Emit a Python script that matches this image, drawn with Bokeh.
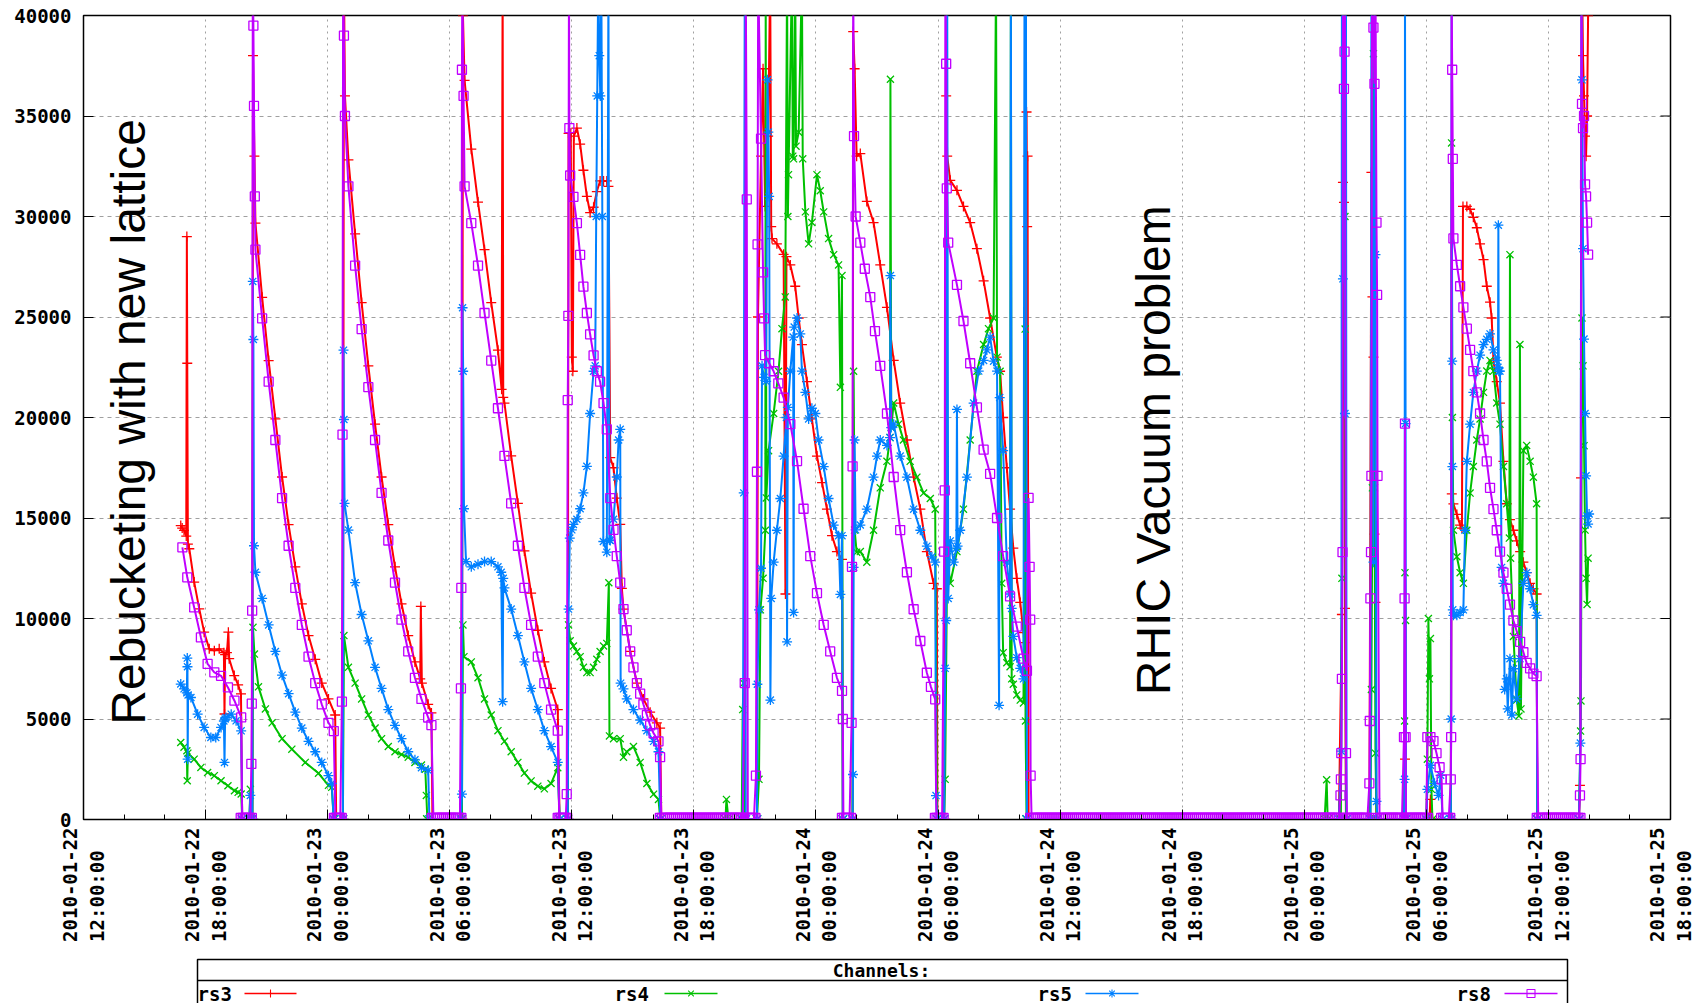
import math
from bokeh.plotting import figure
from bokeh.layouts import column
from bokeh.models import Range1d, FixedTicker, ColumnDataSource
from bokeh.core.properties import value
from bokeh.embed import file_html
from bokeh.resources import INLINE

# ---------------- data (time in hours after 2010-01-22 12:00) ----------------
x_ticks = [0, 6, 12, 18, 24, 30, 36, 42, 48, 54, 60, 66, 72, 78]
x_minor = [2, 4, 8, 10, 14, 16, 20, 22, 26, 28, 32, 34, 38, 40, 44, 46, 50, 52,
           56, 58, 62, 64, 68, 70, 74, 76]
x_tick_labels = [
    "2010-01-22\n  12:00:00", "2010-01-22\n  18:00:00",
    "2010-01-23\n  00:00:00", "2010-01-23\n  06:00:00",
    "2010-01-23\n  12:00:00", "2010-01-23\n  18:00:00",
    "2010-01-24\n  00:00:00", "2010-01-24\n  06:00:00",
    "2010-01-24\n  12:00:00", "2010-01-24\n  18:00:00",
    "2010-01-25\n  00:00:00", "2010-01-25\n  06:00:00",
    "2010-01-25\n  12:00:00", "2010-01-25\n  18:00:00",
]
y_ticks = [0, 5000, 10000, 15000, 20000, 25000, 30000, 35000, 40000]
y_tick_labels = ["0", "5000", "10000", "15000", "20000", "25000", "30000", "35000", "40000"]

names = ["rs3", "rs4", "rs5", "rs8"]
colors = ["#ff0000", "#00c000", "#0080ff", "#c000ff"]
markers = ["cross", "x", "asterisk", "square"]

notes = ["Rebucketing with new lattice", "RHIC Vacuum problem"]
note_t = [2.2, 52.6]
note_v = [4712, 6180]

rs3 = [
    (4.78, 14625), (4.85, 14500), (4.94, 14380), (5.05, 14100), (5.08, 29000), (5.10, 22700), (5.13, 13700),
    (5.20, 13470), (5.44, 11810), (5.69, 10480), (5.93, 9320), (6.18, 8490), (6.43, 8400), (6.67, 8490),
    (6.90, 8300), (6.93, 5250), (6.96, 8200), (7.05, 8300), (7.12, 9320), (7.16, 8000), (7.41, 7160),
    (7.60, 6700), (7.74, 6250), (7.80, 0),
    (8.30, 0), (8.33, 38000), (8.40, 33000), (8.45, 29670), (8.78, 25980), (9.10, 22830), (9.43, 19935),
    (9.76, 17040), (10.08, 14675), (10.41, 12570), (10.73, 10730), (11.06, 9150), (11.39, 7970),
    (11.71, 6785), (12.04, 6000), (12.37, 5200), (12.42, 0),
    (12.75, 0), (12.80, 42000), (12.85, 36000), (13.02, 32820), (13.35, 29140), (13.67, 25720),
    (14.00, 22570), (14.33, 19670), (14.65, 17040), (14.98, 14675), (15.31, 12570), (15.63, 10730),
    (15.96, 9150), (16.29, 7840), (16.55, 7000), (16.58, 10600), (16.63, 6785), (16.94, 5730),
    (17.10, 5300), (17.15, 0),
    (18.60, 0), (18.65, 40000), (18.73, 36770), (19.06, 33350), (19.39, 30720), (19.71, 28350),
    (20.04, 25720), (20.37, 23350), (20.55, 21400), (20.60, 42000), (20.63, 21000), (20.69, 20720),
    (21.02, 18090), (21.35, 15730), (21.67, 13360), (22.00, 11260), (22.33, 9415), (22.65, 7840),
    (22.98, 6520), (23.31, 5470), (23.40, 0),
    (23.80, 0), (23.84, 34140), (23.95, 34140), (24.00, 23000), (24.05, 22300), (24.10, 34000),
    (24.25, 34400), (24.41, 33600), (24.57, 32300), (24.74, 31000), (24.90, 30190), (25.07, 30460),
    (25.23, 31240), (25.39, 31770), (25.56, 31770), (25.72, 31770), (25.80, 31500), (25.89, 18000),
    (26.05, 17500), (26.21, 15990), (26.38, 14680), (26.46, 11500), (26.54, 10470), (26.87, 8360),
    (27.20, 6785), (27.52, 6000), (27.85, 5340), (28.18, 4810), (28.34, 4550), (28.40, 0),
    (33.10, 0), (33.15, 25000), (33.30, 33000), (33.40, 37350), (33.50, 30500), (33.65, 34000),
    (33.75, 42000), (33.80, 29500), (33.84, 28900), (34.08, 28640), (34.41, 28120), (34.50, 11220),
    (34.55, 28000), (34.74, 27590), (34.98, 26530), (35.15, 24950), (35.31, 23630), (35.56, 21780),
    (35.80, 19930), (36.05, 18080), (36.30, 16760), (36.54, 15440), (36.79, 14120), (37.03, 13330),
    (37.28, 12940), (37.32, 0),
    (37.80, 0), (37.83, 39200), (37.90, 37350), (38.00, 33000), (38.18, 33130), (38.50, 30750),
    (38.83, 29700), (39.16, 27590), (39.49, 25480), (39.82, 22840), (40.14, 20720), (40.47, 18880),
    (40.80, 17030), (41.13, 15440), (41.45, 13330), (41.78, 11750), (41.94, 11480), (41.97, 0),
    (42.30, 0), (42.40, 36000), (42.45, 33000), (42.60, 31800), (42.93, 31300), (43.25, 30500),
    (43.58, 29700), (43.91, 28400), (44.24, 26800), (44.56, 24950), (44.89, 23000), (45.05, 22300),
    (45.20, 20000), (45.38, 17500), (45.54, 15440), (45.70, 13500), (45.87, 12000), (46.04, 10800),
    (46.20, 9300), (46.30, 8800), (46.35, 35200), (46.38, 29500), (46.40, 33000), (46.45, 0),
    (61.70, 0), (61.85, 10200), (61.90, 31700), (61.95, 30700), (62.00, 10500), (62.05, 0),
    (63.20, 0), (63.30, 32200), (63.35, 26000), (63.40, 23000), (63.45, 14200), (63.50, 10800),
    (63.55, 0), (64.90, 0), (64.95, 3000), (65.00, 0), (66.15, 0), (66.20, 1000), (66.30, 0),
    (67.20, 0), (67.25, 16200), (67.33, 15700), (67.50, 15180), (67.66, 14650), (67.75, 14500),
    (67.80, 30500), (67.99, 30500), (68.15, 30360), (68.31, 29960), (68.48, 29440), (68.64, 28640),
    (68.81, 27850), (68.97, 26530), (69.13, 25740), (69.21, 24950), (69.30, 22840), (69.46, 21780),
    (69.62, 20720), (69.79, 17820), (69.95, 15710), (70.11, 14920), (70.28, 14390), (70.44, 13860),
    (70.61, 13330), (70.77, 12800), (70.93, 12280), (71.10, 11750), (71.26, 11480), (71.42, 11220),
    (71.45, 0),
    (73.50, 0), (73.55, 1700), (73.60, 17000), (73.65, 42000), (73.70, 38000), (73.75, 36000),
    (73.80, 34000), (73.85, 33000), (73.90, 35000), (73.95, 40000), (74.00, 42000),
]

rs4 = [
    (4.78, 3830), (4.94, 3600), (5.08, 3420), (5.10, 1930), (5.13, 3300), (5.44, 3000), (5.77, 2590),
    (6.10, 2340), (6.43, 2180), (6.76, 1930), (7.10, 1680), (7.42, 1430), (7.60, 1350), (7.75, 1270),
    (7.80, 0), (8.15, 0), (8.20, 1500), (8.25, 0),
    (8.30, 0), (8.33, 9560), (8.40, 8230), (8.60, 6600), (8.94, 5500), (9.27, 4810), (9.76, 4020),
    (10.24, 3500), (10.90, 2840), (11.55, 2300), (12.04, 1700), (12.20, 1600), (12.30, 0),
    (12.75, 0), (12.80, 9150), (13.02, 7570), (13.35, 6785), (13.67, 6000), (14.00, 5200), (14.33, 4550),
    (14.65, 4020), (14.98, 3630), (15.31, 3370), (15.63, 3235), (15.96, 3100), (16.29, 2840),
    (16.61, 2710), (16.80, 2500), (16.85, 1200), (16.90, 0),
    (18.60, 0), (18.65, 9680), (18.70, 8100), (19.06, 7840), (19.39, 7050), (19.71, 6000), (20.04, 5200),
    (20.37, 4420), (20.69, 3890), (21.02, 3370), (21.35, 2840), (21.67, 2310), (22.00, 1920),
    (22.33, 1660), (22.65, 1525), (22.98, 1790), (23.31, 2580), (23.40, 0),
    (23.80, 0), (23.84, 9680), (23.92, 8890), (24.08, 8630), (24.25, 8360), (24.41, 8100), (24.57, 7570),
    (24.74, 7310), (24.90, 7310), (25.07, 7570), (25.23, 7970), (25.39, 8360), (25.56, 8630),
    (25.72, 8760), (25.82, 11780), (25.85, 4160), (26.05, 4020), (26.38, 4020), (26.54, 3100),
    (26.70, 3370), (27.03, 3630), (27.36, 2840), (27.69, 1790), (28.02, 1260), (28.26, 1000), (28.35, 0),
    (31.55, 0), (31.60, 1000), (31.70, 0), (32.35, 0), (32.40, 5470), (32.45, 6785), (32.50, 0),
    (33.10, 0), (33.20, 2000), (33.27, 10430), (33.40, 12000), (33.51, 14390), (33.53, 42000),
    (33.56, 16000), (33.67, 18350), (33.92, 20200), (34.16, 22300), (34.33, 24420), (34.49, 26000),
    (34.58, 42000), (34.62, 30000), (34.65, 32080), (34.82, 42000), (34.86, 33000), (34.90, 32870),
    (34.98, 42000), (35.02, 33500), (35.15, 34190), (35.31, 42000), (35.35, 32870), (35.48, 30230),
    (35.64, 28640), (35.80, 29700), (36.05, 32080), (36.21, 31280), (36.38, 30230), (36.62, 28900),
    (36.87, 28100), (37.11, 27590), (37.20, 21500), (37.28, 27060), (37.32, 0),
    (37.80, 0), (37.85, 22300), (37.90, 14400), (38.00, 13300), (38.18, 13330), (38.50, 12800),
    (38.83, 14390), (39.16, 16500), (39.49, 17820), (39.64, 19000), (39.66, 36830), (39.70, 19500),
    (39.82, 20720), (40.06, 19670), (40.30, 18880), (40.63, 17820), (40.96, 17030), (41.29, 16240),
    (41.62, 15970), (41.86, 15440), (41.95, 0),
    (42.30, 0), (42.35, 2000), (42.45, 13070), (42.60, 11750), (42.93, 13330), (43.25, 15440),
    (43.58, 18880), (43.91, 22300), (44.24, 23630), (44.48, 24420), (44.73, 24950), (44.85, 42000),
    (44.90, 23000), (45.05, 22300), (45.13, 11750), (45.20, 8300), (45.38, 7800), (45.54, 7600),
    (45.58, 42000), (45.62, 7000), (45.70, 6730), (45.87, 6200), (46.04, 5940), (46.20, 5800),
    (46.28, 24400), (46.30, 4900), (46.35, 0),
    (61.00, 0), (61.10, 1980), (61.15, 0), (61.80, 0), (61.85, 12000), (61.90, 42000), (62.00, 30000),
    (62.05, 0), (63.25, 0), (63.30, 6470), (63.35, 16500), (63.40, 38100), (63.45, 16500), (63.50, 3300),
    (63.55, 0), (64.90, 0), (64.93, 4900), (64.95, 12280), (64.98, 9900), (65.00, 0), (66.00, 0),
    (66.05, 3000), (66.10, 10000), (66.15, 7000), (66.20, 9000), (66.25, 1500), (66.30, 0),
    (67.20, 0), (67.24, 33660), (67.28, 20000), (67.33, 14390), (67.50, 13070), (67.66, 12280),
    (67.82, 11750), (67.99, 14390), (68.15, 16240), (68.31, 17560), (68.48, 18880), (68.64, 19930),
    (68.81, 21250), (68.97, 22310), (69.13, 22840), (69.30, 22310), (69.46, 20720), (69.62, 19670),
    (69.79, 17560), (69.95, 15710), (70.08, 14000), (70.11, 28100), (70.14, 13000), (70.28, 9110),
    (70.44, 5940), (70.55, 5150), (70.60, 23630), (70.65, 5500), (70.77, 18350), (70.93, 18610),
    (71.10, 17820), (71.26, 17030), (71.42, 15710), (71.45, 0),
    (73.50, 0), (73.58, 4400), (73.60, 5900), (73.65, 24950), (73.70, 22570), (73.75, 18600),
    (73.80, 14400), (73.85, 12000), (73.90, 10700), (73.95, 13000),
]

rs5 = [
    (4.78, 6740), (4.94, 6500), (5.08, 6300), (5.10, 8030), (5.11, 7600), (5.12, 3000), (5.14, 6200),
    (5.28, 6070), (5.61, 5240), (5.93, 4580), (6.26, 4080), (6.50, 4080), (6.76, 4580), (6.90, 4900),
    (6.93, 2840), (6.96, 5000), (7.00, 5080), (7.26, 5240), (7.50, 4910), (7.75, 4410), (7.80, 0),
    (8.15, 0), (8.20, 1200), (8.25, 0),
    (8.30, 0), (8.32, 26770), (8.35, 23880), (8.38, 13620), (8.45, 12300), (8.78, 11000), (9.10, 9680),
    (9.43, 8360), (9.76, 7180), (10.08, 6260), (10.41, 5340), (10.73, 4550), (11.06, 3890),
    (11.39, 3370), (11.71, 2840), (12.04, 2180), (12.20, 1790), (12.30, 0),
    (12.75, 0), (12.78, 23350), (12.80, 19900), (12.83, 15730), (13.02, 14400), (13.35, 11780),
    (13.67, 10200), (14.00, 8890), (14.33, 7570), (14.65, 6520), (14.98, 5470), (15.31, 4680),
    (15.63, 4020), (15.96, 3370), (16.29, 2970), (16.61, 2580), (16.94, 2445), (17.00, 0),
    (18.55, 0), (18.60, 1260), (18.63, 25460), (18.66, 22300), (18.70, 15460), (18.80, 12830),
    (19.06, 12570), (19.39, 12700), (19.71, 12830), (20.04, 12830), (20.37, 12570), (20.53, 12300),
    (20.60, 5860), (20.63, 12000), (20.69, 11520), (21.02, 10470), (21.35, 9150), (21.67, 7840),
    (22.00, 6520), (22.33, 5470), (22.65, 4420), (22.98, 3630), (23.31, 2840), (23.40, 0),
    (23.80, 0), (23.84, 10470), (23.90, 14000), (24.00, 14410), (24.08, 14680), (24.25, 14940),
    (24.41, 15460), (24.57, 16250), (24.74, 17570), (24.90, 20200), (25.07, 22300), (25.15, 22570),
    (25.20, 30000), (25.25, 36000), (25.30, 42000), (25.35, 38000), (25.40, 36000), (25.45, 42000),
    (25.50, 30000), (25.55, 13830), (25.72, 13300), (25.80, 42000), (25.85, 13900), (25.89, 13880),
    (26.05, 14940), (26.21, 17040), (26.30, 18880), (26.38, 19410), (26.40, 6785), (26.54, 6500),
    (26.70, 6000), (27.03, 5470), (27.36, 4940), (27.69, 4420), (28.02, 3890), (28.26, 3370), (28.35, 0),
    (32.40, 0), (32.45, 16250), (32.50, 42000), (32.55, 0),
    (33.10, 0), (33.12, 6730), (33.20, 10430), (33.30, 12500), (33.35, 22570), (33.45, 22000),
    (33.55, 21800), (33.62, 36800), (33.66, 34200), (33.70, 31000), (33.76, 5940), (33.80, 11000),
    (33.92, 12800), (34.08, 14390), (34.25, 15970), (34.41, 18080), (34.55, 20000), (34.58, 8840),
    (34.62, 20500), (34.74, 22310), (34.88, 24000), (34.90, 10300), (34.93, 24500), (35.07, 24950),
    (35.23, 24160), (35.31, 22310), (35.48, 21250), (35.64, 19930), (35.80, 20460), (35.97, 20200),
    (36.13, 18880), (36.38, 17560), (36.62, 15970), (36.87, 14650), (37.11, 14120), (37.20, 11200),
    (37.28, 14120), (37.32, 0),
    (37.80, 0), (37.82, 2240), (37.85, 12540), (37.90, 18880), (37.95, 14410), (38.18, 14650),
    (38.50, 15440), (38.83, 17030), (39.00, 18080), (39.16, 18880), (39.49, 18610), (39.64, 19000),
    (39.66, 27060), (39.70, 19500), (39.82, 19670), (40.14, 18080), (40.47, 17030), (40.80, 15440),
    (41.13, 14390), (41.45, 13600), (41.70, 13070), (41.86, 12800), (41.90, 1190), (41.95, 0),
    (42.30, 0), (42.35, 7520), (42.40, 9900), (42.45, 42000), (42.50, 11000), (42.60, 13860),
    (42.77, 12800), (42.90, 13500), (42.93, 20400), (42.96, 13600), (43.09, 14390), (43.42, 17030),
    (43.75, 20720), (44.00, 22310), (44.24, 22840), (44.40, 23360), (44.56, 24000), (44.73, 22800),
    (44.90, 22310), (45.00, 5680), (45.03, 20990), (45.20, 18350), (45.38, 12800), (45.54, 11220),
    (45.58, 42000), (45.62, 10500), (45.70, 9110), (45.87, 8050), (46.04, 7520), (46.20, 7000),
    (46.25, 42000), (46.32, 42000), (46.37, 0),
    (61.70, 0), (61.82, 3400), (61.85, 42000), (61.90, 26900), (61.95, 42000), (62.00, 20200),
    (62.05, 42000), (62.08, 0), (63.25, 0), (63.30, 42000), (63.40, 12800), (63.45, 42000),
    (63.50, 28100), (63.55, 900), (63.60, 0), (64.90, 0), (64.93, 2000), (64.95, 42000), (64.98, 19700),
    (65.00, 0), (66.00, 0), (66.05, 1500), (66.20, 2700), (66.40, 1800), (66.60, 1200), (66.70, 2200),
    (66.80, 0),
    (67.20, 0), (67.22, 5000), (67.24, 42000), (67.27, 22800), (67.28, 17560), (67.30, 10430),
    (67.33, 10160), (67.50, 10160), (67.66, 10300), (67.82, 10430), (67.90, 14390), (67.99, 17820),
    (68.15, 19670), (68.31, 21250), (68.48, 22310), (68.64, 23100), (68.81, 23630), (68.97, 23890),
    (69.13, 24160), (69.30, 23360), (69.46, 22840), (69.52, 22500), (69.54, 29570), (69.56, 22300),
    (69.62, 22310), (69.70, 12540), (69.79, 11750), (69.85, 6470), (69.95, 7000), (70.00, 5500),
    (70.11, 8000), (70.20, 5200), (70.28, 7500), (70.44, 6000), (70.60, 8000), (70.77, 11750),
    (70.93, 12280), (71.10, 11480), (71.26, 10690), (71.42, 10160), (71.45, 0),
    (73.50, 0), (73.57, 3800), (73.62, 42000), (73.65, 36800), (73.70, 28400), (73.75, 23900),
    (73.80, 20200), (73.85, 17100), (73.90, 15100), (73.95, 14700), (74.00, 15200),
]

# rs8 readings while beam is present / during spikes
rs8_active = [
    (4.86, 13540), (5.10, 12050), (5.44, 10550), (5.77, 9060), (6.10, 7740), (6.43, 7320), (6.76, 7150),
    (7.10, 6570), (7.42, 5910), (7.75, 5076), (8.25, 2770),
    (8.27, 5760), (8.29, 10390), (8.32, 42000), (8.35, 39500), (8.38, 35500), (8.42, 31000),
    (8.45, 28350), (8.78, 24930), (9.10, 21780), (9.43, 18880), (9.76, 15990), (10.08, 13620),
    (10.41, 11520), (10.73, 9680), (11.06, 8100), (11.39, 6785), (11.71, 5730), (12.04, 4810),
    (12.30, 4400), (12.70, 5860), (12.73, 19150), (12.76, 42000), (12.80, 39000), (12.85, 35000),
    (13.02, 31500), (13.35, 27560), (13.67, 24400), (14.00, 21510), (14.33, 18880), (14.65, 16250),
    (14.98, 13880), (15.31, 11780), (15.63, 9940), (15.96, 8360), (16.29, 7050), (16.61, 6000),
    (16.94, 5075), (17.10, 4700), (18.55, 6520), (18.57, 11520), (18.60, 37300), (18.62, 42000),
    (18.68, 36000),
    (18.73, 31500), (19.06, 29670), (19.39, 27560), (19.71, 25200), (20.04, 22830), (20.37, 20460),
    (20.69, 18090), (21.02, 15730), (21.35, 13620), (21.67, 11520), (22.00, 9680), (22.33, 8100),
    (22.65, 6785), (22.98, 5470), (23.31, 4420), (23.75, 1260),
    (23.80, 20860), (23.83, 25060), (23.86, 42000),
    (23.88, 34400), (23.92, 32040), (24.08, 30980), (24.25, 29670), (24.41, 28090), (24.57, 26510),
    (24.74, 25200), (24.90, 24140), (25.07, 23090), (25.23, 22300), (25.39, 21780), (25.56, 20720),
    (25.72, 19410), (25.89, 15990), (26.05, 14410), (26.21, 13100), (26.38, 11780), (26.54, 10470),
    (26.70, 9415), (26.87, 8360), (27.03, 7570), (27.20, 6785), (27.36, 6260), (27.52, 5730),
    (27.69, 5200), (27.85, 4680), (28.02, 4290), (28.26, 3890), (28.34, 3100),
    (32.50, 6785), (32.55, 42000), (32.60, 30850), (33.05, 2180), (33.10, 17300), (33.13, 28610),
    (33.16, 42000),
    (33.30, 33870), (33.40, 27220), (33.45, 24930), (33.50, 23100), (33.70, 22700), (33.92, 22300),
    (34.15, 21700), (34.41, 20990), (34.74, 19670), (35.07, 17830), (35.39, 15460), (35.72, 13100),
    (36.05, 11260), (36.38, 9680), (36.70, 8360), (37.03, 7050), (37.28, 6400), (37.32, 5000),
    (37.75, 4810), (37.77, 12570), (37.80, 17570), (37.83, 42000),
    (37.87, 34000), (37.95, 30000), (38.18, 28700), (38.40, 27400), (38.67, 25990), (38.90, 24300),
    (39.16, 22570), (39.49, 20200), (39.82, 17040), (40.14, 14400), (40.47, 12300), (40.80, 10460),
    (41.13, 8880), (41.45, 7300), (41.65, 6600), (41.86, 5980),
    (42.30, 13330), (42.33, 16370), (42.36, 42000), (42.40, 37600), (42.43, 31400),
    (42.50, 28700), (42.93, 26600), (43.25, 24800), (43.58, 22700), (43.91, 20500), (44.24, 18400),
    (44.56, 17200), (44.90, 15000), (45.20, 13100), (45.54, 11100), (45.87, 9600), (46.20, 8000),
    (46.37, 7400), (46.45, 16000), (46.50, 12570), (46.53, 9940), (46.55, 2180),
    (61.78, 1200), (61.80, 2000), (61.82, 3300), (61.85, 7000), (61.88, 13300),
    (61.90, 42000), (61.95, 36350), (61.98, 38200), (62.00, 42000), (62.05, 3300),
    (63.20, 1800), (63.22, 4900), (63.25, 11000),
    (63.28, 13300), (63.30, 17100), (63.33, 42000), (63.40, 39400), (63.45, 36600), (63.50, 42000),
    (63.55, 29700), (63.58, 26100), (63.60, 17100),
    (64.90, 4100), (64.93, 11000), (64.95, 19700), (64.98, 4100),
    (66.05, 4100), (66.20, 4100), (66.35, 3900),
    (66.50, 3300), (66.65, 2600), (66.75, 2000), (67.20, 2000),
    (67.22, 4100), (67.24, 42000), (67.27, 37300),
    (67.30, 32870), (67.33, 28910), (67.50, 27590), (67.66, 26530), (67.82, 25480), (67.99, 24420),
    (68.15, 23360), (68.31, 22310), (68.48, 21250), (68.64, 20200), (68.81, 18880), (68.97, 17820),
    (69.13, 16500), (69.30, 15440), (69.46, 14390), (69.62, 13330), (69.79, 12280), (69.95, 11480),
    (70.11, 10690), (70.28, 9900), (70.44, 9370), (70.61, 8840), (70.77, 8320), (70.93, 7790),
    (71.10, 7520), (71.26, 7260), (71.42, 7130),
    (73.55, 1200), (73.58, 3000), (73.62, 42000), (73.65, 35600), (73.70, 34400), (73.75, 35000),
    (73.80, 31600), (73.85, 31000), (73.90, 29700), (73.95, 28100),
]

# times at which rs8 reads 0 (no beam): the thick purple bar along the axis
rs8_zero_t = [
    7.80, 7.90, 8.00, 8.10, 8.20,
    12.38, 12.46, 12.54, 12.62,
    17.20, 17.30, 17.40, 17.50, 17.60, 17.70, 17.80, 17.90, 18.00, 18.10, 18.20, 18.30, 18.40, 18.50,
    23.38, 23.46, 23.54, 23.62, 23.70,
    28.40, 28.50, 28.60, 28.70, 28.80, 28.90, 29.00, 29.10, 29.20, 29.30,
    29.40, 29.50, 29.60, 29.70, 29.80, 29.90, 30.00, 30.10, 30.20, 30.30,
    30.40, 30.50, 30.60, 30.70, 30.80, 30.90, 31.00, 31.10, 31.20, 31.30,
    31.40, 31.50, 31.60, 31.70, 31.80, 31.90, 32.00, 32.10, 32.20, 32.30, 32.40,
    32.65, 32.75, 32.85, 32.95,
    37.35, 37.45, 37.55, 37.65,
    41.92, 42.00, 42.10, 42.20,
    46.60, 46.70, 46.80, 46.90, 47.00, 47.10, 47.20, 47.30, 47.40, 47.50,
    47.60, 47.70, 47.80, 47.90, 48.00, 48.10, 48.20, 48.30, 48.40, 48.50,
    48.60, 48.70, 48.80, 48.90, 49.00, 49.10, 49.20, 49.30, 49.40, 49.50,
    49.60, 49.70, 49.80, 49.90, 50.00, 50.10, 50.20, 50.30, 50.40, 50.50,
    50.60, 50.70, 50.80, 50.90, 51.00, 51.10, 51.20, 51.30, 51.40, 51.50,
    51.60, 51.70, 51.80, 51.90, 52.00, 52.10, 52.20, 52.30, 52.40, 52.50,
    52.60, 52.70, 52.80, 52.90, 53.00, 53.10, 53.20, 53.30, 53.40, 53.50,
    53.60, 53.70, 53.80, 53.90, 54.00, 54.10, 54.20, 54.30, 54.40, 54.50,
    54.60, 54.70, 54.80, 54.90, 55.00, 55.10, 55.20, 55.30, 55.40, 55.50,
    55.60, 55.70, 55.80, 55.90, 56.00, 56.10, 56.20, 56.30, 56.40, 56.50,
    56.60, 56.70, 56.80, 56.90, 57.00, 57.10, 57.20, 57.30, 57.40, 57.50,
    57.60, 57.70, 57.80, 57.90, 58.00, 58.10, 58.20, 58.30, 58.40, 58.50,
    58.60, 58.70, 58.80, 58.90, 59.00, 59.10, 59.20, 59.30, 59.40, 59.50,
    59.60, 59.70, 59.80, 59.90, 60.00, 60.10, 60.20, 60.30, 60.40, 60.50,
    60.60, 60.70, 60.80, 60.90, 61.00, 61.10, 61.20, 61.30, 61.40, 61.50,
    61.60, 61.70,
    62.10, 62.20, 62.30, 62.40, 62.50, 62.60, 62.70, 62.80, 62.90, 63.00, 63.10,
    63.70, 63.80, 63.90, 64.00, 64.10, 64.20, 64.30, 64.40, 64.50, 64.60, 64.70, 64.80,
    65.00, 65.10, 65.20, 65.30, 65.40, 65.50, 65.60, 65.70, 65.80, 65.90, 66.00,
    66.80, 66.90, 67.00, 67.10,
    71.50, 71.60, 71.70, 71.80, 71.90, 72.00, 72.10, 72.20, 72.30, 72.40,
    72.50, 72.60, 72.70, 72.80, 72.90, 73.00, 73.10, 73.20, 73.30, 73.40, 73.50,
]

rs8 = sorted(rs8_active + [(t, 0) for t in rs8_zero_t])
series = [rs3, rs4, rs5, rs8]

# legend strip positions (page pixels)
leg_label_x = [197, 614, 1037, 1456]
leg_line_x0 = [244, 664, 1085, 1504]
leg_line_x1 = [296, 717, 1138, 1557]

TICK_FONT = "DejaVu Sans Mono"
FRAME_W, FRAME_H = 1587, 804
LEFT, RIGHT, TOP = 83, 37, 15

# ---------------- main plot ----------------
p = figure(frame_width=FRAME_W, frame_height=FRAME_H,
           x_range=Range1d(0, 78), y_range=Range1d(0, 40000),
           output_backend="svg", toolbar_location=None, title=None,
           min_border_left=LEFT, min_border_right=RIGHT, min_border_top=TOP, min_border_bottom=136,
           background_fill_color="white", border_fill_color="white")
p.outline_line_color = "black"
p.outline_line_width = 1.5

xt = FixedTicker(ticks=x_ticks, minor_ticks=x_minor)
yt = FixedTicker(ticks=y_ticks, minor_ticks=[])

xa = p.xaxis[0]
xa.ticker = xt
xa.major_label_overrides = {t: l for t, l in zip(x_ticks, x_tick_labels)}
xa.major_label_orientation = math.pi / 2
xa.major_label_standoff = 8

ya = p.yaxis[0]
ya.ticker = yt
ya.major_label_overrides = {t: l for t, l in zip(y_ticks, y_tick_labels)}
ya.major_label_standoff = 12

for ax in (xa, ya):
    ax.major_label_text_font = TICK_FONT
    ax.major_label_text_font_style = "bold"
    ax.major_label_text_font_size = "19px"
    ax.major_label_text_color = "black"
    ax.major_tick_in = 10
    ax.major_tick_out = 0
    ax.minor_tick_in = 5
    ax.minor_tick_out = 0
    ax.axis_line_color = "black"
    ax.major_tick_line_color = "black"
    ax.minor_tick_line_color = "black"

p.xgrid[0].ticker = xt
p.ygrid[0].ticker = yt
p.xgrid.grid_line_color = "#a0a0a0"
p.xgrid.grid_line_dash = "2 4"
p.ygrid.grid_line_color = "#a0a0a0"
p.ygrid.grid_line_dash = "4 4"

# mirrored inward ticks on the right border
tick_len = 10 * 78 / FRAME_W
p.segment(x0=[78 - tick_len] * len(y_ticks), x1=[78] * len(y_ticks), y0=y_ticks, y1=y_ticks,
          line_color="black", line_width=1)

for data, col, mk in zip(series, colors, markers):
    t = [a for a, b in data]
    v = [b for a, b in data]
    base = 9 if mk == "square" else 10
    sz = [12 if b == 0 else base for b in v]
    src = ColumnDataSource(dict(t=t, v=v, s=sz))
    p.line("t", "v", source=src, line_color=col, line_width=2)
    p.scatter("t", "v", source=src, marker=mk, size="s", line_color=col,
              fill_color=None, line_width=1.3)

p.text(x=note_t, y=note_v, text=notes, angle=math.pi / 2,
       text_font=value("Liberation Sans"), text_font_size="48px",
       text_align="left", text_baseline="alphabetic", text_color="black")

# ---------------- legend strip ----------------
lg = figure(frame_width=FRAME_W, frame_height=48,
            x_range=Range1d(LEFT, LEFT + FRAME_W), y_range=Range1d(48, 0),
            output_backend="svg", toolbar_location=None, title=None,
            min_border_left=LEFT, min_border_right=RIGHT, min_border_top=0, min_border_bottom=0,
            background_fill_color="white", border_fill_color="white")
lg.axis.visible = False
lg.grid.visible = False
lg.outline_line_color = None

lg.quad(left=[197], right=[1567], top=[4], bottom=[80], fill_color=None,
        line_color="black", line_width=1.5)
lg.segment(x0=[197], y0=[25], x1=[1567], y1=[25], line_color="black", line_width=1.5)
lg.text(x=[881], y=[15], text=["Channels:"], text_align="center", text_baseline="middle",
        text_font=value(TICK_FONT), text_font_style="bold", text_font_size="18px",
        text_color="black")
lg.text(x=leg_label_x, y=[38] * 4, text=names, text_align="left", text_baseline="middle",
        text_font=value(TICK_FONT), text_font_style="bold", text_font_size="19px",
        text_color="black")
lsrc = ColumnDataSource(dict(x0=leg_line_x0, x1=leg_line_x1,
                             xm=[(a + b) / 2 for a, b in zip(leg_line_x0, leg_line_x1)],
                             y=[38] * 4, c=colors, m=markers))
lg.segment(x0="x0", y0="y", x1="x1", y1="y", line_color="c", line_width=1.4, source=lsrc)
lg.scatter(x="xm", y="y", marker="m", size=8, line_color="c", fill_color=None,
           line_width=1.1, source=lsrc)

layout = column(p, lg, spacing=0)
open("out.html", "w").write(file_html(layout, INLINE))
